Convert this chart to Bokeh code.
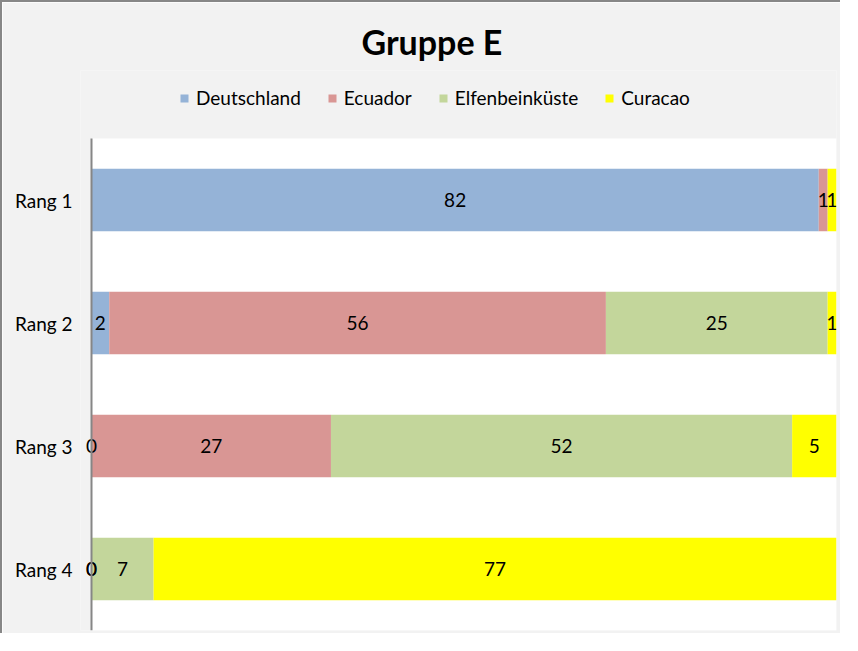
import numpy as np
from bokeh.plotting import figure
from bokeh.models import (ColumnDataSource, Range1d, Legend, LegendItem,
                          FixedTicker, BoxAnnotation)
from bokeh.embed import file_html
from bokeh.resources import INLINE
from bokeh.core.properties import value

ranks = ["Rang 1", "Rang 2", "Rang 3", "Rang 4"]
teams = ["Deutschland", "Ecuador", "Elfenbeinküste", "Curacao"]
deutschland = [82, 2, 0, 0]
ecuador = [1, 56, 27, 0]
elfenbeinkueste = [None, 25, 52, 7]
curacao = [1, 1, 5, 77]
colors = ["#95B3D7", "#D99694", "#C3D69B", "#FFFF00"]

FONT = "Lato"
FS = "19px"
BG = "#F2F2F2"
series = [deutschland, ecuador, elfenbeinkueste, curacao]
vals = np.array([[np.nan if v is None else v for v in s] for s in series], dtype=float)
filled = np.nan_to_num(vals)
right = np.cumsum(filled, axis=0)
left = right - filled
total = right[-1].max()
pos = np.arange(len(ranks))

# layout (pixels)
W, H = 840, 633
MB_L, MB_R, MB_T, MB_B = 78, 6, 68, 5
LEFT_PAD_PX = 11           # space between frame left and the value axis
PLOT_TOP_PX = 68           # space between frame top and plot area
plot_w = W - MB_L - MB_R - LEFT_PAD_PX
x_pad = total * LEFT_PAD_PX / plot_w
row_px = (H - MB_T - MB_B - PLOT_TOP_PX) / len(ranks)
y_bottom = len(ranks) - 0.5
y_top = -0.5 - PLOT_TOP_PX / row_px

p = figure(width=W, height=H,
           x_range=Range1d(-x_pad, total),
           y_range=Range1d(y_bottom, y_top),
           output_backend="svg", toolbar_location=None,
           min_border_left=MB_L, min_border_right=MB_R,
           min_border_top=MB_T, min_border_bottom=MB_B)
p.styles = {"border-left": "2px solid #878787", "border-top": "2px solid #878787"}
p.border_fill_color = BG
p.background_fill_color = BG
p.outline_line_color = None

p.add_layout(BoxAnnotation(left=0, right=total, top=-0.5, bottom=y_bottom,
                           fill_color="white", fill_alpha=1, line_color=None,
                           level="underlay"))

p.title.text = "Gruppe E"
p.title.align = "left"
p.title.offset = 281
p.title.standoff = 17
p.title.text_font = FONT
p.title.text_font_style = "bold"
p.title.text_font_size = "34px"
p.title.text_color = "black"

items = []
for i, team in enumerate(teams):
    src = ColumnDataSource(dict(y=pos, left=left[i], right=right[i]))
    r = p.hbar(y="y", left="left", right="right", height=0.51, source=src,
               fill_color=colors[i], line_color=None)
    items.append(LegendItem(label=team, renderers=[r]))

for i, team in enumerate(teams):
    ys, xs, labs = [], [], []
    for j in range(len(ranks)):
        if not np.isnan(vals[i][j]):
            ys.append(pos[j])
            xs.append((left[i][j] + right[i][j]) / 2)
            labs.append(str(int(vals[i][j])))
    tsrc = ColumnDataSource(dict(y=ys, x=xs, t=labs))
    p.text(x="x", y="y", text="t", source=tsrc, text_font=value(FONT),
           text_font_size=FS, text_align="center", text_baseline="middle",
           text_color="black")

# value axis line
p.segment(x0=[0], y0=[-0.5], x1=[0], y1=[y_bottom], line_color="#868686",
          line_width=2)

legend = Legend(items=items, orientation="horizontal", location=(99, 521),
                glyph_width=10, glyph_height=10, label_standoff=7, spacing=26,
                border_line_color=None, background_fill_alpha=0,
                label_text_font=FONT, label_text_font_size=FS,
                label_text_color="black", padding=0, margin=0)
p.add_layout(legend, "center")

p.xaxis.visible = False
p.xgrid.visible = False
p.ygrid.visible = False
p.yaxis.ticker = FixedTicker(ticks=list(pos))
p.yaxis.major_label_overrides = {int(k): r for k, r in zip(pos, ranks)}
p.yaxis.axis_line_color = None
p.yaxis.major_tick_line_color = None
p.yaxis.minor_tick_line_color = None
p.yaxis.major_label_text_font = FONT
p.yaxis.major_label_text_font_size = FS
p.yaxis.major_label_text_color = "black"
p.yaxis.major_label_standoff = 2

open("out.html", "w").write(file_html(p, INLINE))
